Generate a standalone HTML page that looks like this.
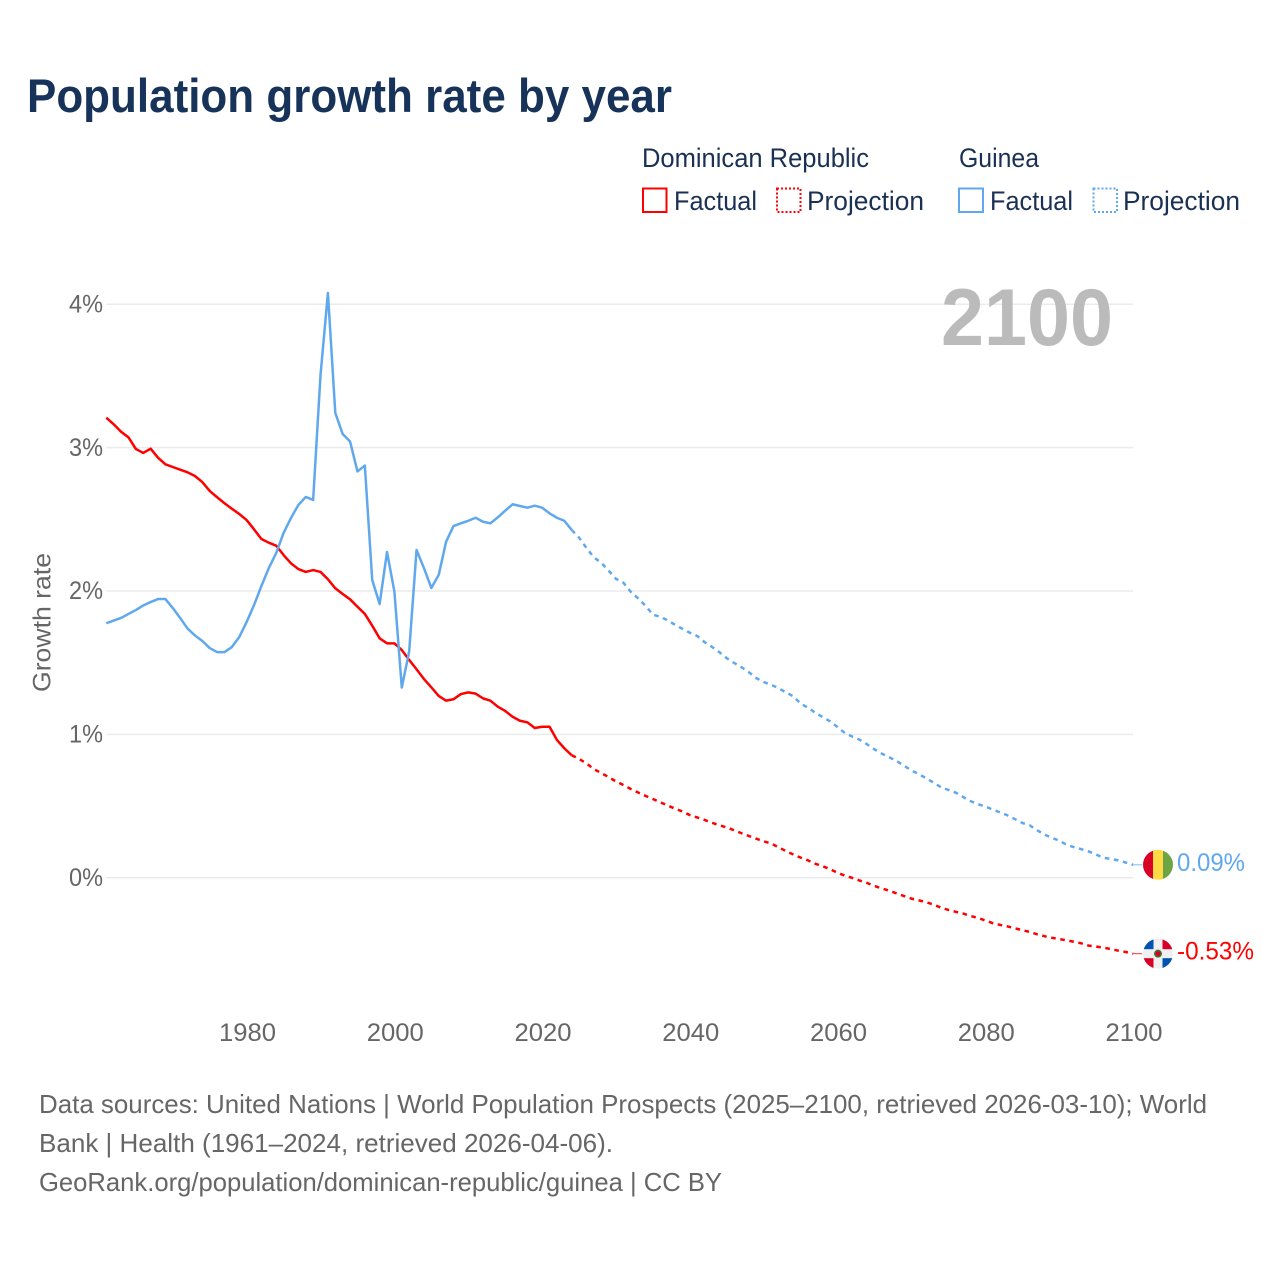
<!DOCTYPE html>
<html lang="en">
<head>
<meta charset="utf-8">
<title>Population growth rate by year</title>
<style>
html,body{margin:0;padding:0;background:#fff;}
svg{display:block;font-family:"Liberation Sans",sans-serif;}
</style>
</head>
<body>
<svg id="chart" xmlns="http://www.w3.org/2000/svg" width="1280" height="1280" viewBox="0 0 1280 1280">
  <rect x="0" y="0" width="1280" height="1280" fill="#ffffff"/>
  <text x="27" y="112" font-size="47" font-weight="700" fill="#17335a" textLength="645" lengthAdjust="spacingAndGlyphs">Population growth rate by year</text>

  <g font-size="27" fill="#1a3153">
    <text x="642" y="167" textLength="227" lengthAdjust="spacingAndGlyphs">Dominican Republic</text>
    <text x="959" y="167" textLength="80" lengthAdjust="spacingAndGlyphs">Guinea</text>
    <rect x="643" y="188.5" width="23.5" height="23.5" fill="none" stroke="#ff0000" stroke-width="2"/>
    <text x="674" y="210" textLength="83" lengthAdjust="spacingAndGlyphs">Factual</text>
    <rect x="777" y="188.5" width="23.5" height="23.5" fill="none" stroke="#ff0000" stroke-width="2" stroke-dasharray="2 2"/>
    <text x="807" y="210" textLength="117" lengthAdjust="spacingAndGlyphs">Projection</text>
    <rect x="959" y="188.5" width="24" height="23.5" fill="none" stroke="#60a8ee" stroke-width="2"/>
    <text x="990" y="210" textLength="83" lengthAdjust="spacingAndGlyphs">Factual</text>
    <rect x="1093.5" y="188.5" width="23.5" height="23.5" fill="none" stroke="#60a8ee" stroke-width="2" stroke-dasharray="2 2"/>
    <text x="1123" y="210" textLength="117" lengthAdjust="spacingAndGlyphs">Projection</text>
  </g>

  <g id="grid"></g>
  <g id="yticks"></g>
  <g id="xticks"></g>
  <text transform="translate(50.5,622.5) rotate(-90)" text-anchor="middle" font-size="25" fill="#666666" textLength="139" lengthAdjust="spacingAndGlyphs">Growth rate</text>
  <text x="941" y="345" font-size="81" font-weight="700" fill="#bbbbbb" textLength="172" lengthAdjust="spacingAndGlyphs">2100</text>
  <g id="series"></g>

  <g id="flag-guinea">
    <clipPath id="clip-gn"><circle cx="0" cy="0" r="15"/></clipPath>
    <g clip-path="url(#clip-gn)">
      <rect x="-15" y="-15" width="10.5" height="30" fill="#d80027"/>
      <rect x="-5" y="-15" width="10.5" height="30" fill="#ffda44"/>
      <rect x="5" y="-15" width="10" height="30" fill="#6da544"/>
    </g>
  </g>
  <g id="flag-dr">
    <clipPath id="clip-dr"><circle cx="0" cy="0" r="15"/></clipPath>
    <g clip-path="url(#clip-dr)">
      <rect x="-15" y="-15" width="30" height="30" fill="#f0f0f0"/>
      <rect x="-15" y="-15" width="10.5" height="10.5" fill="#0052b4"/>
      <rect x="4.5" y="-15" width="10.5" height="10.5" fill="#d80027"/>
      <rect x="-15" y="4.5" width="10.5" height="10.5" fill="#d80027"/>
      <rect x="4.5" y="4.5" width="10.5" height="10.5" fill="#0052b4"/>
      <circle cx="0" cy="0" r="4" fill="#496e2d"/>
      <circle cx="0" cy="0" r="2.3" fill="#d80027"/>
    </g>
  </g>
  <text id="value-guinea" x="1177" font-size="25" fill="#60a8ee" textLength="68" lengthAdjust="spacingAndGlyphs"></text>
  <text id="value-dr" x="1177" font-size="25" fill="#ff0000" textLength="77" lengthAdjust="spacingAndGlyphs"></text>

  <g font-size="26" fill="#666666">
    <text x="39" y="1113" textLength="1168" lengthAdjust="spacingAndGlyphs">Data sources: United Nations | World Population Prospects (2025–2100, retrieved 2026-03-10); World</text>
    <text x="39" y="1152" textLength="574" lengthAdjust="spacingAndGlyphs">Bank | Health (1961–2024, retrieved 2026-04-06).</text>
    <text x="39" y="1191" textLength="683" lengthAdjust="spacingAndGlyphs">GeoRank.org/population/dominican-republic/guinea | CC BY</text>
  </g>
</svg>
<script>
var factualStartYear = 1961;
var projectionStartYear = 2025;
var yTickValues = [0, 1, 2, 3, 4];
var xTickYears = [1980, 2000, 2020, 2040, 2060, 2080, 2100];

var drFactual = [
  3.209,3.163,3.111,3.072,2.991,2.963,2.993,2.930,2.884,2.865,
  2.846,2.828,2.802,2.760,2.698,2.654,2.612,2.574,2.537,2.495,
  2.430,2.363,2.337,2.316,2.251,2.193,2.153,2.133,2.146,2.133,
  2.082,2.019,1.979,1.942,1.890,1.840,1.758,1.670,1.635,1.635,
  1.588,1.519,1.454,1.386,1.328,1.268,1.235,1.245,1.281,1.293,
  1.284,1.251,1.235,1.193,1.163,1.123,1.095,1.084,1.044,1.053,
  1.053,0.961,0.903,0.854
];
var drProjection = [
  0.829,0.797,0.758,0.730,0.702,0.671,0.647,0.619,0.594,0.571,
  0.549,0.526,0.504,0.481,0.462,0.437,0.420,0.403,0.383,0.366,
  0.350,0.331,0.310,0.291,0.272,0.254,0.239,0.212,0.186,0.162,
  0.140,0.121,0.097,0.080,0.059,0.034,0.014,-0.002,-0.020,-0.037,
  -0.058,-0.075,-0.091,-0.110,-0.128,-0.146,-0.158,-0.171,-0.188,-0.209,
  -0.225,-0.238,-0.250,-0.267,-0.281,-0.298,-0.317,-0.329,-0.340,-0.353,
  -0.366,-0.378,-0.395,-0.408,-0.419,-0.428,-0.437,-0.447,-0.458,-0.474,
  -0.481,-0.488,-0.498,-0.509,-0.518,-0.53
];
var guineaFactual = [
  1.775,1.794,1.812,1.840,1.867,1.899,1.923,1.944,1.944,1.881,
  1.812,1.738,1.690,1.651,1.602,1.574,1.574,1.609,1.679,1.784,
  1.902,2.035,2.160,2.265,2.405,2.509,2.600,2.656,2.635,3.507,
  4.079,3.242,3.095,3.043,2.834,2.875,2.077,1.909,2.272,1.996,
  1.327,1.578,2.286,2.160,2.021,2.112,2.344,2.453,2.472,2.490,
  2.511,2.483,2.472,2.514,2.560,2.605,2.593,2.581,2.595,2.581,
  2.542,2.511,2.490,2.426
];
var guineaProjection = [
  2.372,2.300,2.235,2.197,2.142,2.085,2.058,1.994,1.948,1.897,
  1.835,1.820,1.795,1.764,1.736,1.709,1.686,1.643,1.610,1.573,
  1.531,1.498,1.468,1.433,1.392,1.365,1.346,1.322,1.293,1.265,
  1.215,1.186,1.150,1.120,1.090,1.050,1.009,0.984,0.962,0.930,
  0.895,0.865,0.840,0.813,0.781,0.747,0.723,0.693,0.663,0.631,
  0.612,0.593,0.563,0.534,0.513,0.497,0.475,0.456,0.435,0.409,
  0.382,0.366,0.331,0.301,0.278,0.259,0.230,0.213,0.199,0.183,
  0.161,0.139,0.131,0.121,0.106,0.09
];

var SVG_NS = 'http://www.w3.org/2000/svg';
var RED = '#ff0000';
var BLUE = '#60a8ee';

function xScale(year) { return 106.3 + (year - 1961) * 7.387; }
function yScale(value) { return 877.7 - value * 143.35; }

function linePath(values, startYear, prefix) {
  var d = prefix || '';
  for (var i = 0; i < values.length; i++) {
    d += (d ? 'L' : 'M') + xScale(startYear + i).toFixed(2) + ' ' + yScale(values[i]).toFixed(2);
  }
  return d;
}
function makeEl(tag, parentId) {
  var el = document.createElementNS(SVG_NS, tag);
  document.getElementById(parentId).appendChild(el);
  return el;
}

yTickValues.forEach(function (v) {
  var line = makeEl('line', 'grid');
  
  
  line.setAttribute('x1', xScale(1961));
  line.setAttribute('x2', xScale(2100));
  line.setAttribute('y1', yScale(v));
  line.setAttribute('y2', yScale(v));
  line.setAttribute('stroke', '#ebebeb');
  line.setAttribute('stroke-width', '1.5');

  var label = makeEl('text', 'yticks');
  
  
  label.setAttribute('x', 103);
  label.setAttribute('y', yScale(v) + 8.2);
  label.setAttribute('text-anchor', 'end');
  label.setAttribute('font-size', '25');
  label.setAttribute('fill', '#666666');
  label.setAttribute('textLength', '34');
  label.setAttribute('lengthAdjust', 'spacingAndGlyphs');
  label.textContent = v + '%';
});

xTickYears.forEach(function (yr) {
  var label = makeEl('text', 'xticks');
  
  
  label.setAttribute('x', xScale(yr) + 0.9);
  label.setAttribute('y', 1041);
  label.setAttribute('text-anchor', 'middle');
  label.setAttribute('font-size', '25');
  label.setAttribute('fill', '#666666');
  label.setAttribute('textLength', '57');
  label.setAttribute('lengthAdjust', 'spacingAndGlyphs');
  label.textContent = yr;
});

function drawFactual(name, values, color) {
  var p = makeEl('path', 'series');
  
  
  p.setAttribute('d', linePath(values, factualStartYear));
  p.setAttribute('fill', 'none');
  p.setAttribute('stroke', color);
  p.setAttribute('stroke-width', '2.5');
  p.setAttribute('stroke-linejoin', 'round');
}
function drawProjection(name, values, lastFactual, color) {
  var start = 'M' + xScale(projectionStartYear - 1).toFixed(2) + ' ' + yScale(lastFactual).toFixed(2);
  var p = makeEl('path', 'series');
  
  
  p.setAttribute('d', linePath(values, projectionStartYear, start));
  p.setAttribute('fill', 'none');
  p.setAttribute('stroke', color);
  p.setAttribute('stroke-width', '2.5');
  p.setAttribute('stroke-dasharray', '4.6 4.6');
}
function drawLeader(name, value, color) {
  var l = makeEl('line', 'series');
  
  
  l.setAttribute('x1', xScale(2100));
  l.setAttribute('x2', xScale(2100) + 9);
  l.setAttribute('y1', yScale(value));
  l.setAttribute('y2', yScale(value));
  l.setAttribute('stroke', color);
  l.setAttribute('stroke-width', '1');
  l.setAttribute('stroke-opacity', '0.8');
}

drawFactual('line-dominican-republic-factual', drFactual, RED);
drawProjection('line-dominican-republic-projection', drProjection, drFactual[drFactual.length - 1], RED);
drawFactual('line-guinea-factual', guineaFactual, BLUE);
drawProjection('line-guinea-projection', guineaProjection, guineaFactual[guineaFactual.length - 1], BLUE);

var lastDr = drProjection[drProjection.length - 1];
var lastGn = guineaProjection[guineaProjection.length - 1];
drawLeader('leader-dominican-republic', lastDr, RED);
drawLeader('leader-guinea', lastGn, BLUE);

document.getElementById('flag-guinea').setAttribute('transform', 'translate(1158,' + yScale(lastGn).toFixed(2) + ')');
document.getElementById('flag-dr').setAttribute('transform', 'translate(1158,' + yScale(lastDr).toFixed(2) + ')');
var gnText = document.getElementById('value-guinea');
gnText.setAttribute('y', (yScale(lastGn) + 6).toFixed(2));
gnText.textContent = lastGn.toFixed(2) + '%';
var drText = document.getElementById('value-dr');
drText.setAttribute('y', (yScale(lastDr) + 6).toFixed(2));
drText.textContent = lastDr.toFixed(2) + '%';
</script>
</body>
</html>
